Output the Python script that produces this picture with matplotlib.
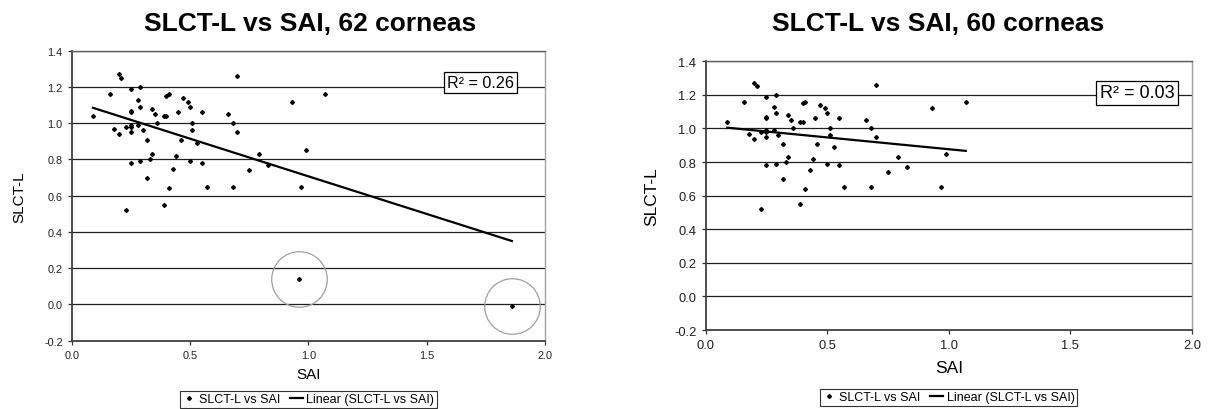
import numpy as np
import matplotlib
matplotlib.use("Agg")
import matplotlib.pyplot as plt
from matplotlib.lines import Line2D

plt.rcParams['font.family'] = ['Liberation Sans', 'DejaVu Sans']

# SAI / SLCT-L readings (60 corneas shared by both charts)
sai = [0.09, 0.16, 0.18, 0.20, 0.21, 0.20, 0.23, 0.25, 0.25, 0.25,
       0.25, 0.25, 0.25, 0.25, 0.28, 0.28, 0.29, 0.29, 0.29, 0.30,
       0.32, 0.32, 0.33, 0.34, 0.34, 0.35, 0.36, 0.39, 0.40, 0.40,
       0.41, 0.41, 0.39, 0.23, 0.43, 0.44, 0.45, 0.46, 0.47, 0.49,
       0.50, 0.51, 0.51, 0.50, 0.53, 0.55, 0.55, 0.57, 0.66, 0.68,
       0.70, 0.70, 0.68, 0.75, 0.79, 0.83, 0.93, 0.99, 0.97, 1.07]
slct = [1.04, 1.16, 0.97, 1.27, 1.25, 0.94, 0.98, 1.19, 1.07, 1.06,
        0.99, 0.98, 0.95, 0.78, 1.13, 0.99, 1.20, 1.09, 0.79, 0.96,
        0.91, 0.70, 0.80, 1.08, 0.83, 1.05, 1.00, 1.04, 1.04, 1.15,
        1.16, 0.64, 0.55, 0.52, 0.75, 0.82, 1.06, 0.91, 1.14, 1.12,
        1.09, 1.00, 0.96, 0.79, 0.89, 1.06, 0.78, 0.65, 1.05, 1.00,
        1.26, 0.95, 0.65, 0.74, 0.83, 0.77, 1.12, 0.85, 0.65, 1.16]

# the two circled outliers only in the 62-cornea chart
outlier_sai = [0.96, 1.86]
outlier_slct = [0.14, -0.01]

titles = ["SLCT-L vs SAI, 62 corneas", "SLCT-L vs SAI, 60 corneas"]
r2_labels = ["R\u00b2 = 0.26", "R\u00b2 = 0.03"]
legend_labels = ["SLCT-L vs SAI", "Linear (SLCT-L vs SAI)"]
xticks = [0.0, 0.5, 1.0, 1.5, 2.0]
yticks = [-0.2, 0.0, 0.2, 0.4, 0.6, 0.8, 1.0, 1.2, 1.4]

W, H = 1208, 410
fig = plt.figure(figsize=(W / 100, H / 100), dpi=100)


def px_axes(x0, y0, x1, y1):
    return fig.add_axes([x0 / W, 1 - y1 / H, (x1 - x0) / W, (y1 - y0) / H])


def fx(px):
    return px / W


def fy(py):
    return 1 - py / H


# per-chart layout, in pixels of the 1208x410 picture
panels = [
    dict(box=(71.7, 51.8, 545, 341.6), tick_fs=7.8, lab_fs=11, r2_fs=11.6,
         title_x=310, r2_xy=(480.5, 83.5), xlab_y=375, ylab_x=19, leg_y=400),
    dict(box=(705.5, 62.3, 1192, 331), tick_fs=9.3, lab_fs=12.5, r2_fs=13,
         title_x=938, r2_xy=(1137, 94), xlab_y=369, ylab_x=652, leg_y=398),
]

datasets = [
    (np.array(sai + outlier_sai), np.array(slct + outlier_slct)),
    (np.array(sai), np.array(slct)),
]

axes = []
for i, (p, (x, y)) in enumerate(zip(panels, datasets)):
    x0, y0, x1, y1 = p['box']
    ax = px_axes(x0, y0, x1, y1)
    axes.append(ax)
    ax.set_xlim(0, 2.0)
    ax.set_ylim(-0.2, 1.4)
    for yv in yticks[1:]:
        ax.axhline(yv, color='#202020', lw=0.9, zorder=1)

    ax.plot(x, y, 'D', color='black', ms=2.0, zorder=3)

    # linear trend line (Excel style), fitted on the plotted points
    k, b = np.polyfit(x, y, 1)
    xs = np.array([x.min(), x.max()])
    ax.plot(xs, k * xs + b, color='black', lw=1.6, zorder=2)

    ax.set_xticks(xticks)
    ax.set_xticklabels([f"{v:.1f}" for v in xticks])
    ax.set_yticks(yticks)
    ax.set_yticklabels([f"{v:.1f}" for v in yticks])
    ax.tick_params(direction='out', length=3, width=0.9, labelsize=p['tick_fs'],
                   colors='#303030', labelcolor='#202020', pad=3.5)

    for side in ['left', 'bottom']:
        ax.spines[side].set_color('#404040')
        ax.spines[side].set_linewidth(1.3)
    ax.spines['top'].set_color('#606060')
    ax.spines['top'].set_linewidth(1.0)
    ax.spines['right'].set_color('#a0a0a0')
    ax.spines['right'].set_linewidth(1.0)

    fig.text(fx((x0 + x1) / 2), fy(p['xlab_y']), "SAI", fontsize=p['lab_fs'],
             ha='center', va='center')
    fig.text(fx(p['ylab_x']), fy((y0 + y1) / 2), "SLCT-L", fontsize=p['lab_fs'],
             ha='center', va='center', rotation=90)
    fig.text(fx(p['title_x']), fy(31), titles[i], fontsize=19, fontweight='bold',
             ha='center', va='baseline')

    fig.text(fx(p['r2_xy'][0]), fy(p['r2_xy'][1]), r2_labels[i],
             ha='center', va='center', fontsize=p['r2_fs'],
             bbox=dict(boxstyle='square,pad=0.2', fc='white', ec='black', lw=0.9),
             zorder=5)

    handles = [Line2D([], [], marker='D', ls='none', color='black', ms=2.0),
               Line2D([], [], color='black', lw=1.6)]
    leg = fig.legend(handles, legend_labels, loc='center',
                     bbox_to_anchor=(fx((x0 + x1) / 2), fy(p['leg_y'])),
                     ncol=2, fontsize=9, frameon=True, fancybox=False,
                     edgecolor='black', handlelength=1.0, handletextpad=0.3,
                     columnspacing=0.8, borderpad=0.2, borderaxespad=0)
    leg.get_frame().set_linewidth(0.8)

# grey rings around the two excluded corneas
axes[0].plot(outlier_sai, outlier_slct, 'o', ms=40, mfc='none', mec='#a0a0a0',
             mew=0.9, zorder=2)

fig.savefig("out.png", dpi=100)
